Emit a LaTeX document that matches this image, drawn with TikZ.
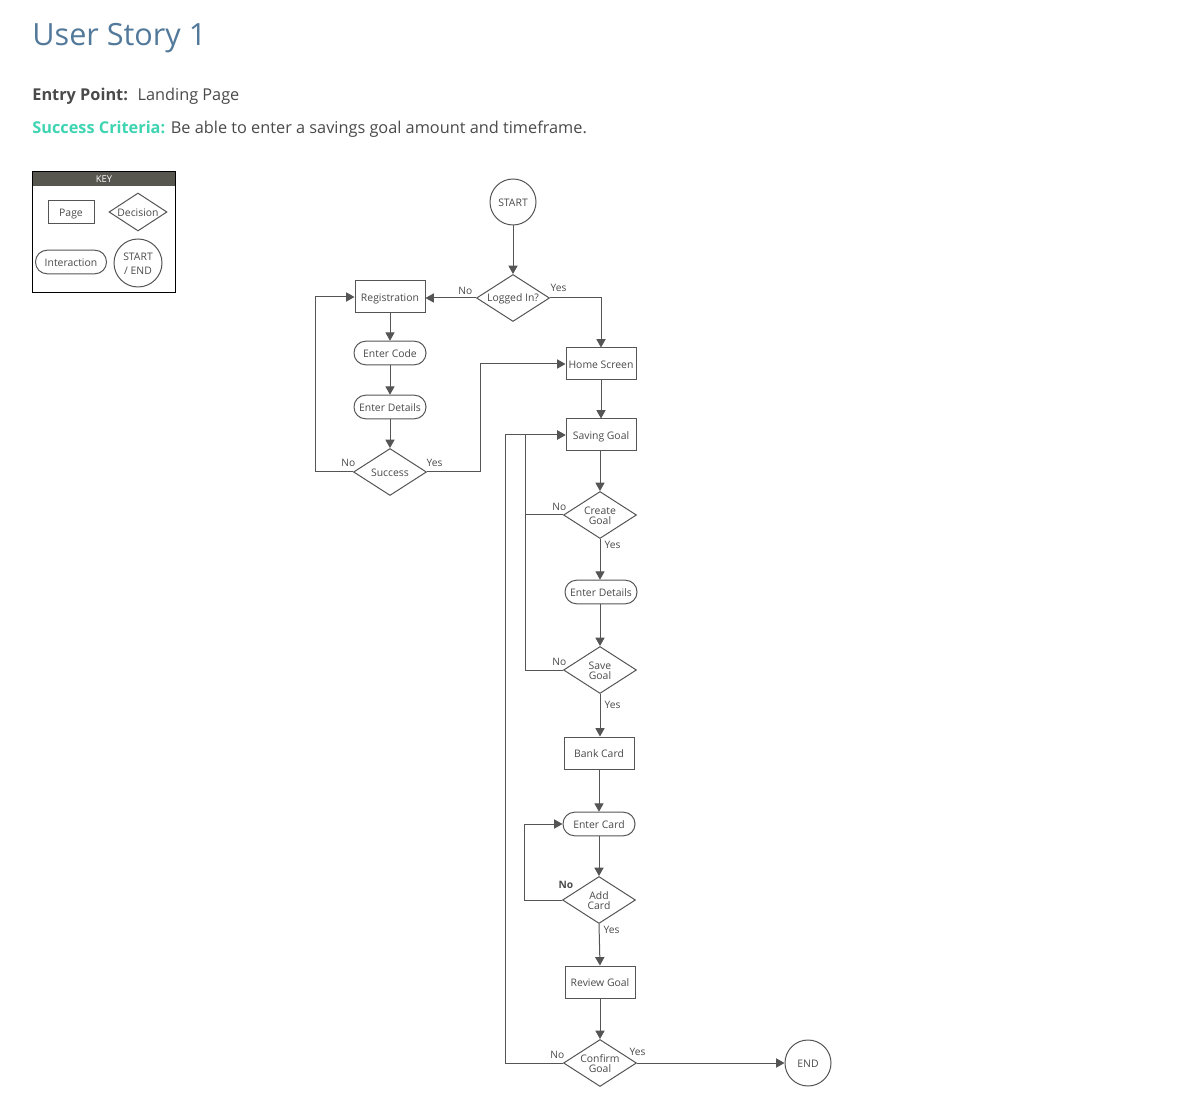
\documentclass[tikz,border=0pt]{standalone}
\usepackage{fontspec}
\setmainfont{Open Sans}
\usetikzlibrary{arrows.meta,shapes.geometric,calc}
\definecolor{ink}{HTML}{555555}
\definecolor{txt}{HTML}{4A4A4A}
\definecolor{titleblue}{HTML}{52799A}
\definecolor{teal}{HTML}{3FD4B2}
\definecolor{keyhead}{HTML}{57574F}
\tikzset{
  base/.style={draw=ink, line width=0.5pt, text=txt, font=\fontsize{5.2pt}{6.2pt}\selectfont, inner sep=0pt, text height=4.2pt, text depth=0pt},
  page/.style={base, rectangle, minimum width=35pt, minimum height=16pt},
  inter/.style={base, rectangle, rounded corners=5.8pt, minimum width=36pt, minimum height=11.8pt},
  dec/.style={base, diamond, minimum width=36.5pt, minimum height=23.5pt},
  term/.style={base, circle, minimum size=23pt},
  lbl/.style={text=txt, font=\fontsize{5.1pt}{6pt}\selectfont, inner sep=0.6pt},
  dlbl/.style={text=txt, font=\fontsize{5.2pt}{5pt}\selectfont, inner sep=0pt, align=center, yshift=-0.4pt},
  arr/.style={draw=ink, line width=0.5pt, -{Triangle[length=4.2pt,width=4.6pt]}},
  ln/.style={draw=ink, line width=0.5pt},
}
\begin{document}
\begin{tikzpicture}[x=0.5pt,y=-0.5pt]
\fill[white] (0,0) rectangle (1200,1117);
\useasboundingbox (0,0) rectangle (1200,1117);

% header texts
\node[anchor=base west, inner sep=0pt, text=titleblue, font=\fontsize{15.3pt}{18pt}\selectfont] (title) at (32,46) {User Story 1};
\node[anchor=base west, inner sep=0pt, text=txt, font=\fontsize{8.15pt}{10pt}\selectfont] (entry) at (32,101) {\textbf{Entry Point:}\hspace{2pt} Landing Page};
\node[anchor=base west, inner sep=0pt, text=txt, font=\fontsize{8.15pt}{10pt}\selectfont] (crit) at (32,134) {\textcolor{teal}{\textbf{Success Criteria:}} Be able to enter a savings goal amount and timeframe.};

% key
\fill[keyhead] (32,171) rectangle (175,186);
\draw[black, line width=0.45pt] (32,171) rectangle (175,292);
\node[text=white, font=\fontsize{4.7pt}{5pt}\selectfont, inner sep=0pt] (keyt) at (104,179) {KEY};
\node[page, minimum width=23pt, minimum height=11.5pt] (kpage) at (71,212) {Page};
\node[dec, minimum width=29pt, minimum height=19pt, label={[dlbl]center:Decision}] (kdec) at (138,212) {};
\node[inter, minimum width=35.5pt, minimum height=11.8pt] (kint) at (71,262) {Interaction};
\node[term, minimum size=24pt, label={[dlbl, font=\fontsize{5.2pt}{7pt}\selectfont]center:START\\/ END}] (kterm) at (138,263) {};

% main nodes
\node[term] (start) at (513,202) {START};
\node[dec, label={[dlbl]center:Logged In?}] (logged) at (513,298) {};
\node[page] (reg) at (390,297) {Registration};
\node[inter] (code) at (390,353) {Enter Code};
\node[inter] (det1) at (390,407) {Enter Details};
\node[dec, label={[dlbl]center:Success}] (succ) at (390,472) {};
\node[page] (home) at (601,364) {Home Screen};
\node[page] (saving) at (601,435) {Saving Goal};
\node[dec, label={[dlbl]center:Create\\Goal}] (create) at (600,515) {};
\node[inter] (det2) at (601,592) {Enter Details};
\node[dec, label={[dlbl]center:Save\\Goal}] (save) at (600,670) {};
\node[page] (bank) at (599,753) {Bank Card};
\node[inter] (card) at (599,824) {Enter Card};
\node[dec, label={[dlbl]center:Add\\Card}] (add) at (599,900) {};
\node[page] (review) at (600,982) {Review Goal};
\node[dec, label={[dlbl]center:Confirm\\Goal}] (confirm) at (600,1063) {};
\node[term] (end) at (808,1063) {END};

% connectors
\draw[arr] (start) -- (logged.north);
\draw[arr] (logged.west) -- node[lbl, pos=0.21, above=1pt] {No} (logged.west -| reg.east);
\draw[arr] (logged.east) -| node[lbl, pos=0, anchor=south west, yshift=2.5pt, xshift=-0.5pt] {Yes} (home.north);
\draw[arr] (reg) -- (code);
\draw[arr] (code) -- (det1);
\draw[arr] (det1) -- (succ.north);
\draw[arr] (succ.west) -- node[lbl, pos=0, anchor=south east, yshift=2pt, xshift=2pt] {No} ++(-38,0) |- (reg.west);
\draw[arr] (succ.east) -- node[lbl, pos=0, anchor=south west, yshift=2pt, xshift=-1pt] {Yes} ++(53,0) |- (home.west);
\draw[arr] (home) -- (saving);
\draw[arr] (saving.south -| create.north) -- (create.north);
\draw[arr] (create.west) -- node[lbl, pos=0, anchor=south east, yshift=1.5pt, xshift=2.5pt] {No} ++(-38,0) |- (saving.west);
\draw[arr] (create.south) -- node[lbl, pos=0, anchor=north west, yshift=-0.5pt, xshift=1.5pt] {Yes} (create.south |- det2.north);
\draw[arr] (create.south |- det2.south) -- (save.north);
\draw[ln] (save.west) -- node[lbl, pos=0, anchor=south east, yshift=1.5pt, xshift=2.5pt] {No} ++(-38,0) -- ([xshift=-19pt]create.west);
\draw[arr] (save.south) -- node[lbl, pos=0, anchor=north west, yshift=-3pt, xshift=1.5pt] {Yes} (save.south |- bank.north);
\draw[arr] (bank) -- (card);
\draw[arr] (card) -- (add.north);
\draw[arr] (add.west) -- node[lbl, pos=0, anchor=south, yshift=5pt, xshift=2pt, font=\fontsize{5.1pt}{6pt}\selectfont\bfseries] {No} ++(-38,0) |- (card.west);
\draw[arr] (add.south) -- node[lbl, pos=0, anchor=north west, yshift=-0.5pt, xshift=1.5pt] {Yes} (review.north);
\draw[arr] (review) -- (confirm.north);
\draw[arr] (confirm.west) -- node[lbl, pos=0, anchor=south east, yshift=1.5pt, xshift=1.5pt] {No} ++(-58,0) |- (saving.west);
\draw[arr] (confirm.east) -- node[lbl, pos=0, anchor=south west, yshift=3pt, xshift=-4.5pt] {Yes} (end.west);
\end{tikzpicture}
\end{document}
